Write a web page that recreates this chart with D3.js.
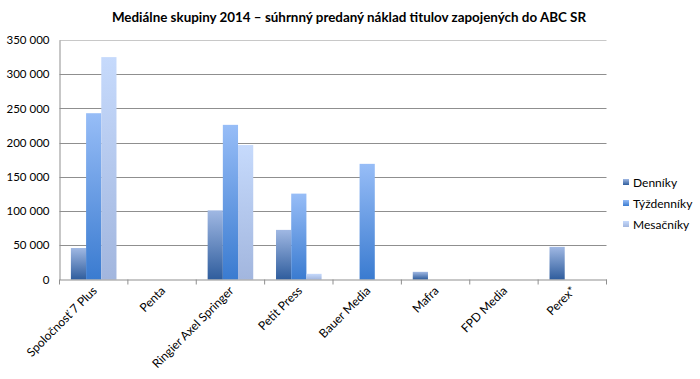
<!DOCTYPE html>
<html lang="sk">
<head>
<meta charset="UTF-8">
<title>Mediálne skupiny 2014</title>
<script src="https://cdnjs.cloudflare.com/ajax/libs/d3/7.8.5/d3.min.js"></script>
<style>
    body { margin: 0; background: #fff; font-family: 'Lato', sans-serif; }
    #chart { width: 700px; height: 379px; }
</style>
</head>
<body>
<div id="chart"></div>
<script>
    // values
    const categories = ["Spoločnosť 7 Plus", "Penta", "Ringier Axel Springer", "Petit Press",
        "Bauer Media", "Mafra", "FPD Media", "Perex*"];
    const denniky     = [46000, 0, 101000, 72500, 0, 11200, 0, 47700];
    const tyzdenniky  = [243000, 0, 226000, 125500, 169000, 0, 0, 0];
    const mesacniky   = [325000, 0, 196500, 8300, 0, 0, 0, 0];
    const seriesNames = ["Denníky", "Týždenníky", "Mesačníky"];
    const yTicks = [0, 50000, 100000, 150000, 200000, 250000, 300000, 350000];

    const series = [denniky, tyzdenniky, mesacniky];
    // bottom / top colours of each bar gradient
    const grads = [["#2f5d9d", "#a0b8e3"], ["#3a7bd0", "#97bdf7"], ["#a2b6de", "#c6dafc"]];

    const W = 700, H = 379;
    const m = { left: 59.5, right: 93.5, top: 40, bottom: 99.5 };

    const svg = d3.select("#chart").append("svg")
        .attr("width", W).attr("height", H);

    const defs = svg.append("defs");
    grads.forEach((g, i) => {
        const lg = defs.append("linearGradient").attr("id", "g" + i)
            .attr("x1", 0).attr("y1", 1).attr("x2", 0).attr("y2", 0);
        lg.append("stop").attr("offset", 0).attr("stop-color", g[0]);
        lg.append("stop").attr("offset", 1).attr("stop-color", g[1]);
    });

    const x = d3.scaleBand().domain(categories)
        .range([m.left, W - m.right]).paddingInner(0).paddingOuter(0);
    const y = d3.scaleLinear().domain([0, 350000]).range([H - m.bottom, m.top]);
    const bw = x.bandwidth() / (3 + 1.5);

    // grid lines
    svg.append("g").selectAll("line").data(yTicks.slice(1)).join("line")
        .attr("x1", m.left).attr("x2", W - m.right)
        .attr("y1", d => Math.round(y(d)) + 0.5).attr("y2", d => Math.round(y(d)) + 0.5)
        .attr("stroke", d => d === 350000 ? "#c8c8c8" : "#8f8f8f").attr("stroke-width", 1);

    // bars
    series.forEach((vals, si) => {
        svg.append("g").selectAll("rect")
            .data(vals.map((v, i) => ({ c: categories[i], v })).filter(d => d.v > 0))
            .join("rect")
            .attr("x", d => x(d.c) + bw * 0.75 + si * bw)
            .attr("width", bw)
            .attr("y", d => y(d.v))
            .attr("height", d => y(0) - y(d.v))
            .attr("fill", `url(#g${si})`);
    });

    // y axis
    const yAxis = svg.append("g")
        .attr("transform", `translate(${m.left},0)`)
        .call(d3.axisLeft(y).tickValues(yTicks).tickSize(0).tickPadding(10)
            .tickFormat(d => d3.format(",")(d).replace(/,/g, " ")));
    yAxis.select(".domain").attr("stroke", "#8f8f8f");
    yAxis.selectAll("text").attr("font-family", "Lato").attr("font-size", 11.5).attr("fill", "#000");

    // x axis
    const xAxis = svg.append("g")
        .attr("transform", `translate(0,${y(0)})`)
        .call(d3.axisBottom(x).tickSize(0).tickFormat(""));
    xAxis.select(".domain").attr("stroke", "#8f8f8f");
    xAxis.selectAll(".tick").remove();
    const edges = categories.map(c => x(c)).concat([W - m.right]);
    xAxis.selectAll("line.edge").data(edges).join("line").attr("class", "edge")
        .attr("x1", d => d).attr("x2", d => d).attr("y1", 0).attr("y2", 5)
        .attr("stroke", "#8f8f8f");
    xAxis.selectAll("text.lbl").data(categories).join("text").attr("class", "lbl")
        .attr("transform", d => `translate(${x(d) + x.bandwidth() / 2 + 4},${12}) rotate(-45)`)
        .attr("text-anchor", "end")
        .attr("font-family", "Lato").attr("font-size", 12).attr("fill", "#000")
        .text(d => d);

    // title
    svg.append("text").attr("x", 349).attr("y", 22)
        .attr("text-anchor", "middle").attr("font-family", "Lato").attr("font-weight", "bold")
        .attr("font-size", 13.4).text("Mediálne skupiny 2014 – súhrnný predaný náklad titulov zapojených do ABC SR");

    // legend
    const lg = svg.append("g").attr("transform", "translate(623,182)");
    seriesNames.forEach((n, i) => {
        const row = lg.append("g").attr("transform", `translate(0,${i * 21})`);
        row.append("rect").attr("x", 0).attr("y", -3).attr("width", 6).attr("height", 6)
            .attr("fill", `url(#g${i})`);
        row.append("text").attr("x", 10).attr("y", 4.5)
            .attr("font-family", "Lato").attr("font-size", 12).text(n);
    });
</script>
</body>
</html>
